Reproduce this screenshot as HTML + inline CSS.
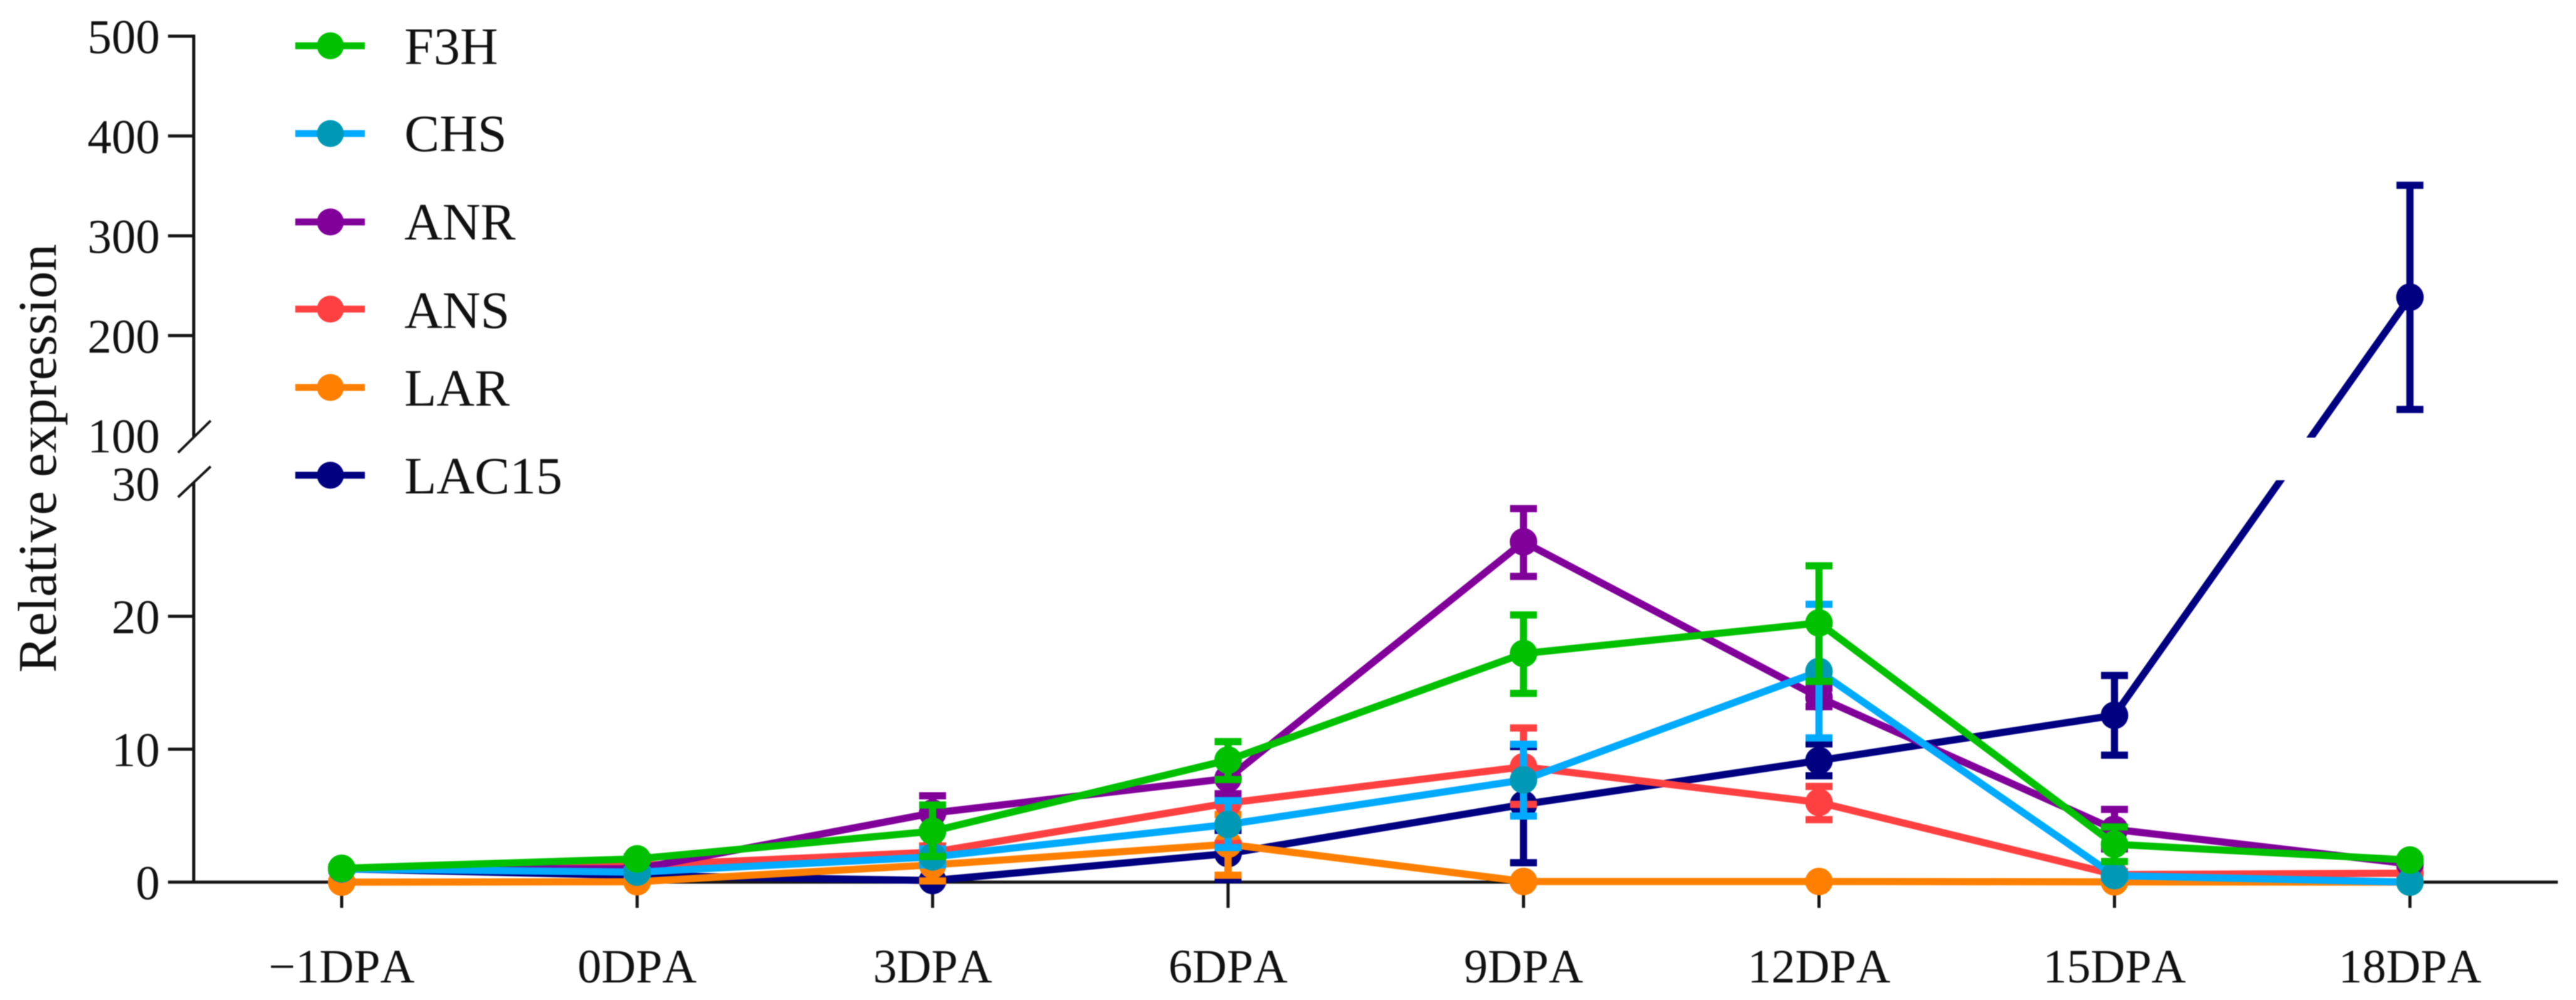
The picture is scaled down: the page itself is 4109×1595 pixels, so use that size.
<!DOCTYPE html>
<html lang="en">
<head>
<meta charset="utf-8">
<title>Relative expression chart</title>
<style>
  html, body { margin: 0; padding: 0; background: #fff; }
  svg { display: block; font-family: "Liberation Serif", "Times New Roman", serif; fill: #111; font-kerning: none; filter: blur(0.7px); }
</style>
</head>
<body>
<svg id="chart" xmlns="http://www.w3.org/2000/svg" width="4109" height="1595" viewBox="0 0 4109 1595">
  <rect x="0" y="0" width="4109" height="1595" fill="#fff"/>
  <g id="axes"></g>
  <g id="series"></g>
  <rect id="gap" x="345" y="698" width="3760" height="68" fill="#fff"/>
  <text transform="translate(89 731) rotate(-90)" text-anchor="middle" font-size="87">Relative expression</text>

  <g font-size="84">
    <g>
      <line x1="471" x2="582" y1="73" y2="73" stroke="#00c000" stroke-width="11"/>
      <circle cx="527" cy="73" r="21.5" fill="#00c000"/>
      <text x="645" y="102">F3H</text>
    </g>
    <g>
      <line x1="471" x2="582" y1="213" y2="213" stroke="#00aaff" stroke-width="11"/>
      <circle cx="527" cy="213" r="21.5" fill="#0099b5"/>
      <text x="645" y="241">CHS</text>
    </g>
    <g>
      <line x1="471" x2="582" y1="354" y2="354" stroke="#800099" stroke-width="11"/>
      <circle cx="527" cy="354" r="21.5" fill="#800099"/>
      <text x="645" y="382">ANR</text>
    </g>
    <g>
      <line x1="471" x2="582" y1="493" y2="493" stroke="#ff4040" stroke-width="11"/>
      <circle cx="527" cy="493" r="21.5" fill="#ff4040"/>
      <text x="645" y="523">ANS</text>
    </g>
    <g>
      <line x1="471" x2="582" y1="618" y2="618" stroke="#ff8000" stroke-width="11"/>
      <circle cx="527" cy="618" r="21.5" fill="#ff8000"/>
      <text x="645" y="647">LAR</text>
    </g>
    <g>
      <line x1="471" x2="582" y1="758" y2="758" stroke="#000080" stroke-width="11"/>
      <circle cx="527" cy="758" r="21.5" fill="#000080"/>
      <text x="645" y="787">LAC15</text>
    </g>
  </g>
</svg>

<script>
const categories = ['\u22121DPA', '0DPA', '3DPA', '6DPA', '9DPA', '12DPA', '15DPA', '18DPA'];
const lowerTicks = [0, 10, 20, 30];
const upperTicks = [100, 200, 300, 400, 500];

const f3h   = [1.04, 1.75, 3.83, 9.18, 17.2, 19.5, 2.85, 1.66];
const f3hHi = [1.1, 1.9, 5.8, 10.57, 20.1, 23.8, 4.15, 1.75];
const f3hLo = [1.0, 1.6, 1.93, 7.72, 14.2, 15.1, 1.55, 1.55];

const chs   = [1.0, 0.75, 1.9, 4.34, 7.69, 15.85, 0.49, 0.0];
const chsHi = [1.1, 0.9, 2.5, 6.13, 10.37, 20.9, 0.7, 0.05];
const chsLo = [0.9, 0.6, 1.3, 2.6, 4.97, 10.85, 0.3, 0.0];

const anr   = [1.0, 1.0, 5.2, 7.8, 25.6, 13.9, 3.97, 1.37];
const anrHi = [1.1, 1.2, 6.5, 9.0, 28.1, 14.6, 5.47, 1.45];
const anrLo = [0.9, 0.8, 3.9, 6.65, 23.0, 13.2, 2.5, 1.3];

const ans   = [1.0, 1.25, 2.25, 5.95, 8.68, 6.0, 0.57, 0.67];
const ansHi = [1.1, 1.4, 2.7, 9.1, 11.6, 7.2, 0.8, 0.8];
const ansLo = [0.9, 1.1, 1.8, 2.9, 5.85, 4.7, 0.4, 0.55];

const lar   = [0.0, 0.03, 1.3, 2.85, 0.05, 0.05, 0.02, 0.0];
const larHi = [0.05, 0.1, 2.73, 5.09, 0.1, 0.1, 0.1, 0.05];
const larLo = [0.0, 0.0, 0.09, 0.52, 0.0, 0.0, 0.0, 0.0];

const lac15   = [1.0, 0.5, 0.12, 2.15, 5.85, 9.15, 12.55, 238.5];
const lac15Hi = [1.1, 0.6, 0.2, 3.9, 10.2, 10.4, 15.55, 350.6];
const lac15Lo = [0.9, 0.4, 0.05, 0.19, 1.46, 8.0, 9.55, 126];

const seriesList = [
  { id: 'lac15', vals: lac15, hi: lac15Hi, lo: lac15Lo, line: '#000080', dot: '#000080' },
  { id: 'lar',   vals: lar,   hi: larHi,   lo: larLo,   line: '#ff8000', dot: '#ff8000' },
  { id: 'ans',   vals: ans,   hi: ansHi,   lo: ansLo,   line: '#ff4040', dot: '#ff4040' },
  { id: 'anr',   vals: anr,   hi: anrHi,   lo: anrLo,   line: '#800099', dot: '#800099' },
  { id: 'chs',   vals: chs,   hi: chsHi,   lo: chsLo,   line: '#00aaff', dot: '#0099b5' },
  { id: 'f3h',   vals: f3h,   hi: f3hHi,   lo: f3hLo,   line: '#00c000', dot: '#00c000' }
];

const NS = 'http://www.w3.org/2000/svg';
const X0 = 545, XSTEP = 471.3;
const Y0 = 1407, LOWER_PER_UNIT = 21.2;
const Y100 = 694.5, UPPER_PER_UNIT = 1.592;
const AXIS_X = 309, AXIS_COLOR = '#151515';
const MARK_W = 11.5, CAP_HALF = 21.5, DOT_R = 22;

function xScale(i) { return X0 + XSTEP * i; }
function yScale(v) {
  if (v <= 30) return Y0 - v * LOWER_PER_UNIT;
  if (v >= 100) return Y100 - (v - 100) * UPPER_PER_UNIT;
  const y30 = Y0 - 30 * LOWER_PER_UNIT;
  return y30 + (Y100 - y30) * (v - 30) / 70;
}
function mk(tag, attrs, parent) {
  const el = document.createElementNS(NS, tag);
  for (const k in attrs) el.setAttribute(k, attrs[k]);
  parent.appendChild(el);
  return el;
}

const axes = document.getElementById('axes');

const yUpperLine = mk('line', { x1: AXIS_X, x2: AXIS_X, y1: yScale(500) - 2.5, y2: yScale(100) + 2, stroke: AXIS_COLOR, 'stroke-width': 5 }, axes);



const yLowerLine = mk('line', { x1: AXIS_X, x2: AXIS_X, y1: yScale(30) - 2, y2: Y0, stroke: AXIS_COLOR, 'stroke-width': 5 }, axes);



const xLine = mk('line', { x1: 268, x2: 4080, y1: Y0, y2: Y0, stroke: AXIS_COLOR, 'stroke-width': 5 }, axes);



const breakUpper = mk('line', { x1: 284, x2: 336, y1: yScale(100) + 27.5, y2: yScale(100) - 23.5, stroke: AXIS_COLOR, 'stroke-width': 4 }, axes);



const breakLower = mk('line', { x1: 284, x2: 336, y1: yScale(30) + 22, y2: yScale(30) - 27, stroke: AXIS_COLOR, 'stroke-width': 4 }, axes);



lowerTicks.concat(upperTicks).forEach(function (v) {
  const isBreak = v === 30 || v === 100;
  if (!isBreak) {
    const tick = mk('line', { x1: 268, x2: AXIS_X, y1: yScale(v), y2: yScale(v), stroke: AXIS_COLOR, 'stroke-width': 5 }, axes);
    
    
  }
  const label = mk('text', { x: 255, y: yScale(v) + 27, 'text-anchor': 'end', 'font-size': 77 }, axes);
  label.textContent = String(v);
  
  
});

categories.forEach(function (c, i) {
  const tick = mk('line', { x1: xScale(i), x2: xScale(i), y1: Y0, y2: Y0 + 41, stroke: AXIS_COLOR, 'stroke-width': 5 }, axes);
  
  
  const label = mk('text', { x: xScale(i), y: 1567, 'text-anchor': 'middle', 'font-size': 76 }, axes);
  label.textContent = c;
  
  
});

const seriesGroup = document.getElementById('series');
seriesList.forEach(function (s) {
  const g = mk('g', {}, seriesGroup);
  
  

  s.vals.forEach(function (v, i) {
    const x = xScale(i);
    const yHi = yScale(s.hi[i]);
    const yLo = yScale(s.lo[i]);
    const bar = mk('path', {
      d: 'M' + (x - CAP_HALF) + ' ' + yHi + 'H' + (x + CAP_HALF) + 'M' + x + ' ' + yHi + 'V' + yLo + 'M' + (x - CAP_HALF) + ' ' + yLo + 'H' + (x + CAP_HALF),
      stroke: s.line, 'stroke-width': MARK_W, fill: 'none'
    }, g);
    
    
  });

  const pts = s.vals.map(function (v, i) { return xScale(i) + ',' + yScale(v); }).join(' ');
  const line = mk('polyline', { points: pts, fill: 'none', stroke: s.line, 'stroke-width': MARK_W, 'stroke-linejoin': 'miter' }, g);
  
  

  s.vals.forEach(function (v, i) {
    const dot = mk('circle', { cx: xScale(i), cy: yScale(v), r: DOT_R, fill: s.dot }, g);
    
    
  });
});
</script>
</body>
</html>
